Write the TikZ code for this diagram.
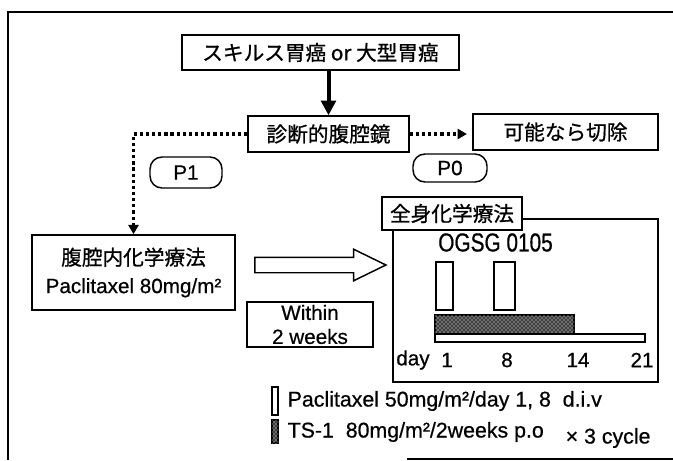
\documentclass[tikz,border=0pt]{standalone}
\usepackage{fontspec}
\setmainfont{Liberation Sans}[FakeBold=0.6]
\newfontfamily\cjk{Noto Sans CJK JP}[FakeBold=0.8]
\newfontfamily\narrowfont{Liberation Sans}[FakeStretch=0.8,FakeBold=0.6]
\usetikzlibrary{arrows.meta,shapes.arrows,patterns}
\begin{document}
\begin{tikzpicture}[x=0.75pt,y=-0.75pt,
  box/.style={draw, line width=1.1pt, fill=white, inner sep=0pt, align=center},
  jp/.style={font=\cjk\fontsize{15.5}{19}\selectfont},
  lat/.style={font=\fontsize{15.5}{18}\selectfont},
  rbox/.style={draw, line width=1.1pt, rounded corners=9pt, inner sep=0pt, font=\fontsize{15.5}{18}\selectfont},
  dotline/.style={line width=2.6pt, dash pattern=on 2.4pt off 2.2pt},
  dottip/.style={-{Triangle[length=7pt,width=7.5pt]}},
  bar/.style={draw, line width=1pt, inner sep=0pt, fill=white},
  tsbar/.style={draw, line width=1pt, inner sep=0pt, fill=black!75, postaction={pattern=crosshatch dots, pattern color=white}},
  frame/.style={line width=1.3pt}
]
\useasboundingbox (0,0) rectangle (673,460);
\draw[frame] (673,12) -- (8,12) -- (8,460);
\draw[frame] (407,459) -- (673,459);

\node[box, jp, minimum width=207.75pt, minimum height=26.25pt] (top) at (320.5,52.5) {スキルス胃癌 or 大型胃癌};
\node[box, jp, minimum width=120.75pt, minimum height=27pt] (diag) at (328.5,134) {診断的腹腔鏡};
\node[box, jp, minimum width=138.75pt, minimum height=27pt] (resect) at (565.5,132) {可能なら切除};
\node[rbox, minimum width=54pt, minimum height=23.25pt] (p1) at (186,172.5) {P1};
\node[rbox, minimum width=55.5pt, minimum height=21pt] (p0) at (450,168) {P0};
\node[box, minimum width=152.25pt, minimum height=56.25pt, font=\fontsize{15.5}{21}\selectfont] (left) at (133.5,272.5) {{\cjk 腹腔内化学療法}\\Paclitaxel 80mg/m²};
\node[box, lat, minimum width=94.5pt, minimum height=33.75pt] (within) at (310,324.5) {Within\\2 weeks};
\node[single arrow, draw, line width=1.1pt, inner xsep=0pt, inner ysep=5.25pt, minimum height=98.25pt, single arrow head extend=6pt, single arrow tip angle=52] (bigarrow) at (312.5,265) {};

\node[box, minimum width=198.75pt, minimum height=122.25pt] (chemo) at (525.5,300.5) {};
\node[box, jp, minimum width=105pt, minimum height=24.75pt] (chemolabel) at (452,213.5) {全身化学療法};
\node[font=\narrowfont\fontsize{19.5}{22}\selectfont] (ogsg) at (495.5,242.5) {OGSG 0105};
\node[bar, minimum width=12.75pt, minimum height=36pt] (pac1) at (444.5,286) {};
\node[bar, minimum width=15.75pt, minimum height=36pt] (pac8) at (504.5,286) {};
\node[tsbar, minimum width=104.25pt, minimum height=14.25pt] (ts) at (504.5,324.5) {};
\node[bar, minimum width=157.5pt, minimum height=6pt] (cycle) at (540,338) {};
\node[lat] (dday) at (413,360) {day};
\node[lat] (d1) at (447,360) {1};
\node[lat] (d8) at (507,360) {8};
\node[lat] (d14) at (578,360) {14};
\node[lat] (d21) at (642,360) {21};

\node[bar, minimum width=4.5pt, minimum height=21pt] (legpac) at (275,401) {};
\node[tsbar, minimum width=4.5pt, minimum height=17.25pt] (legts) at (275,431.5) {};
\node[anchor=west, font=\fontsize{16}{19}\selectfont] (leg1) at (283,401) {Paclitaxel 50mg/m²/day 1, 8~~d.i.v};
\node[anchor=west, font=\fontsize{16}{19}\selectfont] (leg2) at (283,432) {TS-1~~80mg/m²/2weeks p.o};
\node[anchor=west, font=\fontsize{16}{19}\selectfont] (leg3) at (561,438) {× 3 cycle};

\draw[line width=3pt, -{Triangle[length=11pt,width=11pt]}] (top.south -| diag.north) -- (diag.north);
\draw[dotline, dottip, shorten >=4pt] (diag.east) -- (diag.east -| resect.west);
\draw[dotline, dottip] (diag.west) -| (left.north);
\end{tikzpicture}
\end{document}
